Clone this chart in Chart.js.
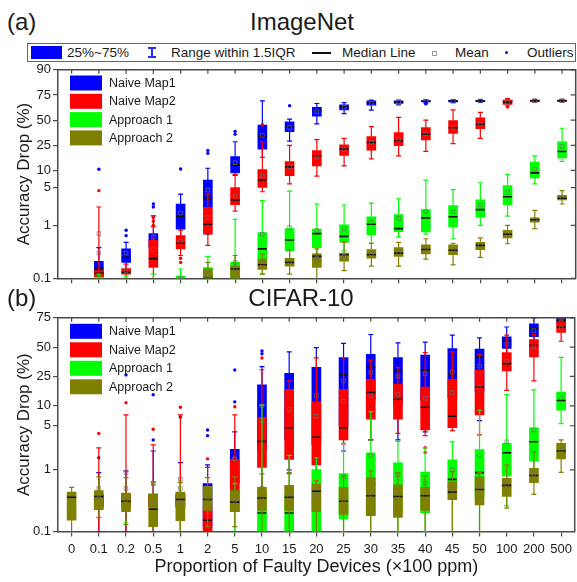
<!DOCTYPE html>
<html>
<head>
<meta charset="utf-8">
<script src="https://cdn.jsdelivr.net/npm/chart.js@4.4.0/dist/chart.umd.min.js"></script>
<style>
  body { margin: 0; width: 577px; height: 582px; background: #fff; position: relative; overflow: hidden;
         font-family: "Liberation Sans", Arial, sans-serif; color: #1a1a1a; }
  canvas { position: absolute; left: 0; }
  #chartA { top: 60px; }
  #chartB { top: 308px; }
  .abs { position: absolute; white-space: nowrap; }
  .head { font-size: 24px; line-height: 24px; }
  .center { transform: translateX(-50%); }
  #keyStrip { position: absolute; left: 27px; top: 43px; width: 549px; height: 19px; border: 1px solid #666;
              box-sizing: border-box; background: #fff; font-size: 13.5px; }
  #keyStrip .kt { position: absolute; top: 0; line-height: 17px; white-space: nowrap; }
  #keyStrip .mk { position: absolute; }
</style>
</head>
<body>
<canvas id="chartA" width="577" height="232"></canvas>
<canvas id="chartB" width="577" height="274"></canvas>

<div class="abs head" style="left:7px; top:10px;">(a)</div>
<div class="abs head center" style="left:302px; top:10px;">ImageNet</div>
<div class="abs head" style="left:7px; top:286px;">(b)</div>
<div class="abs head center" style="left:301px; top:286px;">CIFAR-10</div>

<div id="keyStrip">
  <span class="mk" style="left:3px; top:2px; width:31px; height:13px; background:#0000ff;"></span>
  <span class="kt" style="left:39px;">25%~75%</span>
  <span class="mk" style="left:123px; top:3px; width:2px; height:11px; background:#2a2aff;"></span>
  <span class="mk" style="left:120px; top:3px; width:8px; height:2px; background:#2a2aff;"></span>
  <span class="mk" style="left:120px; top:12px; width:8px; height:2px; background:#2a2aff;"></span>
  <span class="kt" style="left:143px;">Range within 1.5IQR</span>
  <span class="mk" style="left:284px; top:8px; width:19px; height:1.5px; background:#111;"></span>
  <span class="kt" style="left:314px;">Median Line</span>
  <span class="mk" style="left:404px; top:6.5px; width:3px; height:3px; border:1px solid #999;"></span>
  <span class="kt" style="left:427px;">Mean</span>
  <span class="mk" style="left:477px; top:7px; width:3px; height:3px; border-radius:50%; background:#0000ff;"></span>
  <span class="kt" style="left:499px;">Outliers</span>
</div>

<script>
// fault proportions on the x axis (x100 ppm)
const catLabels = ['0', '0.1', '0.2', '0.5', '1', '2', '5', '10', '15', '20', '25', '30', '35', '40', '45', '50', '100', '200', '500'];
const yTicksA = [0.1, 1, 5, 10, 25, 50, 75, 90];
const yTicksB = [0.1, 1, 5, 10, 25, 50, 75];

const seriesNames = ['Naive Map1', 'Naive Map2', 'Approach 1', 'Approach 2'];
const seriesColors = ['#0000ff', '#ff0000', '#00ff00', '#808000'];

// each entry: [lower whisker, Q1, median, Q3, upper whisker, mean] in % accuracy drop
const inNaive1 = [
  null,
  [0.09, 0.105, 0.155, 0.21, 0.38, 0.7],
  [0.14, 0.2, 0.25, 0.36, 0.48, 0.3],
  [0.2, 0.39, 0.52, 0.7, 1.5, 0.6],
  [0.48, 0.85, 1.49, 2.5, 3.8, 1.7],
  [0.68, 2.17, 3.2, 6.8, 10.9, 4.5],
  [8.2, 9.06, 12.4, 16.9, 28, 13.5],
  [16.5, 22, 32.8, 44.6, 69.8, 34],
  [28.6, 37.6, 42.6, 48.1, 51, 42],
  [46, 54.2, 61.1, 63.5, 67.4, 59],
  [57, 61, 64.2, 66, 68.3, 63.5],
  [60.7, 65.7, 67.8, 69.8, 70.5, 67.5],
  [66, 67.4, 68.8, 69.8, 70.5, 68.5],
  [68, 68.8, 69.5, 70.2, 70.8, 69.4],
  [68.2, 69, 69.7, 70.4, 71, 69.6],
  [68.5, 69.2, 69.8, 70.4, 71, 69.8],
  [68.8, 69.4, 69.9, 70.4, 70.9, 69.9],
  [69, 69.5, 70, 70.4, 70.8, 70],
  [69.2, 69.6, 70, 70.4, 70.8, 70]
];
const inNaive1Out = [[], [10.5], [0.64, 0.81], [2.2, 2.5], [10.6], [19, 21], [35, 38], [], [65.3], [], [], [], [], [67, 67.5], [], [], [], [], []];

const inNaive2 = [
  null,
  [0.07, 0.1, 0.125, 0.14, 2.2, 0.3],
  [0.08, 0.12, 0.13, 0.153, 0.185, 0.14],
  [0.09, 0.16, 0.236, 0.52, 0.95, 0.35],
  [0.27, 0.36, 0.46, 0.64, 0.81, 0.5],
  [0.42, 0.68, 1.05, 2.17, 3.8, 1.4],
  [1.84, 2.44, 2.96, 4.98, 8.5, 3.5],
  [4.2, 5.04, 6.8, 10.3, 28, 8],
  [5.8, 8.1, 11.5, 14.1, 25, 11.5],
  [8, 11.9, 17.4, 20.9, 30, 16.5],
  [11.9, 17.6, 22.2, 25.4, 31, 21.5],
  [15.5, 21.3, 27.4, 32.8, 43, 27.5],
  [17.4, 24.6, 28.6, 36.6, 53, 30],
  [20.3, 29.7, 35, 41.8, 50, 35.5],
  [26.4, 36, 41.8, 49.5, 61, 42],
  [31, 40.7, 45.3, 52.4, 58.4, 46],
  [65, 66.5, 68.5, 70.5, 72, 68.5],
  [69, 69.5, 70, 70.5, 71, 70],
  [69, 69.5, 70, 70.5, 71, 70]
];
const inNaive2Out = [[], [4.4], [], [1.0, 1.2, 1.4], [0.2, 0.24], [], [], [45], [], [], [], [], [], [], [], [], [64], [], []];

const inApp1 = [
  null,
  [0.05, 0.05, 0.08, 0.105, 0.12, 0.09],
  [0.05, 0.05, 0.07, 0.09, 0.11, 0.08],
  [0.05, 0.05, 0.07, 0.09, 0.12, 0.08],
  [0.05, 0.07, 0.09, 0.11, 0.15, 0.1],
  [0.05, 0.08, 0.11, 0.16, 0.26, 0.13],
  [0.05, 0.09, 0.14, 0.2, 1.3, 0.2],
  [0.12, 0.236, 0.36, 0.73, 2.9, 0.68],
  [0.22, 0.33, 0.53, 0.87, 4.3, 0.91],
  [0.29, 0.38, 0.7, 0.85, 2.5, 0.8],
  [0.33, 0.48, 0.62, 1.02, 2.4, 0.85],
  [0.46, 0.67, 1.05, 1.45, 2.6, 1.15],
  [0.6, 0.76, 0.87, 1.6, 3.1, 1.35],
  [0.68, 0.75, 1.38, 1.97, 6.8, 1.84],
  [0.56, 0.95, 1.45, 2.33, 4.6, 1.79],
  [1.0, 1.43, 1.97, 3.0, 6.1, 2.4],
  [1.49, 2.44, 3.4, 5.4, 8.5, 4.1],
  [5.8, 7.4, 9.1, 13.8, 17.4, 10.5],
  [14.1, 16.1, 20.3, 28, 41.2, 24]
];

const inApp2 = [
  null, null, null, null, null,
  [0.05, 0.07, 0.1, 0.15, 0.2, 0.11],
  [0.08, 0.1, 0.15, 0.17, 0.27, 0.15],
  [0.12, 0.147, 0.18, 0.23, 0.29, 0.19],
  [0.12, 0.17, 0.2, 0.24, 0.34, 0.21],
  [0.09, 0.16, 0.26, 0.29, 0.36, 0.24],
  [0.14, 0.21, 0.28, 0.3, 0.48, 0.26],
  [0.17, 0.24, 0.28, 0.35, 0.46, 0.29],
  [0.17, 0.26, 0.3, 0.38, 0.48, 0.31],
  [0.23, 0.29, 0.35, 0.43, 0.56, 0.36],
  [0.18, 0.28, 0.34, 0.43, 0.46, 0.35],
  [0.25, 0.35, 0.42, 0.48, 0.58, 0.42],
  [0.45, 0.58, 0.68, 0.81, 1.0, 0.7],
  [0.87, 1.15, 1.27, 1.38, 1.9, 1.28],
  [2.5, 2.97, 3.2, 3.6, 4.4, 3.25]
];

const cfNaive1 = [
  null,
  [0.1, 0.25, 0.3, 0.4, 0.9, 0.3],
  [0.1, 0.25, 0.3, 0.4, 0.96, 0.5],
  [0.1, 0.25, 0.3, 0.4, 2.0, 0.6],
  [0.1, 0.25, 0.3, 0.4, 1.3, 0.5],
  [0.07, 0.12, 0.25, 0.6, 1.2, 0.5],
  [0.3, 0.6, 1.0, 2.12, 4.0, 1.5],
  [0.5, 2.0, 5, 19.6, 32.5, 10],
  [1.0, 3.0, 8, 27.3, 45.6, 12],
  [0.8, 2.5, 10, 32, 49.6, 14],
  [2.0, 5, 26.4, 40.4, 53.5, 22],
  [3, 12, 32, 43.4, 61.6, 28],
  [3, 10, 29, 40.4, 54, 25],
  [4, 12, 29.4, 42.5, 54.6, 27],
  [5, 13, 26.8, 48.7, 61, 28],
  [6, 16, 41, 48.2, 58.5, 33],
  [35, 48.9, 55.5, 59.6, 68, 53],
  [50, 59.6, 66.8, 70.6, 75, 65],
  [66, 70.6, 73, 76, 79, 72]
];
const cfNaive1Out = [[], [1.56], [26.1], [3.0, 14.4], [6.8], [3.5, 4.3], [11.4, 29.8], [43.8, 46.5], [], [], [], [], [], [], [], [], [], [], []];

const cfNaive2 = [
  null,
  [0.05, 0.25, 0.3, 0.4, 2.25, 0.5],
  [0.05, 0.25, 0.3, 0.4, 7.3, 0.9],
  [0.05, 0.25, 0.3, 0.38, 2.5, 0.6],
  [0.05, 0.25, 0.3, 0.4, 7.3, 0.7],
  [0.05, 0.09, 0.153, 0.25, 1.09, 0.4],
  [0.1, 0.21, 0.45, 1.47, 7.3, 1.5],
  [0.3, 1.09, 2.85, 6.7, 30, 6],
  [0.87, 1.47, 4.65, 17.1, 22, 8.9],
  [0.6, 1.2, 3.3, 11.4, 40, 7],
  [2.6, 3.0, 4.65, 17.1, 40, 11.6],
  [3.0, 6.3, 15.4, 23, 38, 14],
  [3.8, 6.3, 12.4, 20, 32, 14.5],
  [3.5, 4.3, 9.5, 18.3, 45, 12.8],
  [4.2, 4.65, 7, 23, 45.6, 15.4],
  [3.6, 7.3, 18.3, 29.8, 43, 18],
  [16.5, 29, 35, 45, 61, 37],
  [22, 41, 51.5, 57, 61.6, 50],
  [55.5, 63.5, 68, 72, 74, 67]
];
const cfNaive2Out = [[], [3.8], [11.1], [4.4], [9.5], [1.5], [9.7], [40], [], [], [], [], [], [2.25, 1.9], [], [], [], [], []];

const cfApp1 = [
  null,
  [0.03, 0.04, 0.05, 0.06, 0.08, 0.05],
  [0.03, 0.04, 0.05, 0.06, 0.08, 0.05],
  [0.03, 0.04, 0.05, 0.06, 0.08, 0.05],
  [0.03, 0.04, 0.05, 0.06, 0.08, 0.05],
  [0.03, 0.04, 0.05, 0.06, 0.08, 0.05],
  [0.05, 0.22, 0.3, 0.4, 0.6, 0.3],
  [0.05, 0.1, 0.2, 0.45, 10.2, 0.5],
  [0.05, 0.08, 0.2, 0.4, 1.7, 0.4],
  [0.05, 0.09, 0.3, 1.01, 1.56, 0.5],
  [0.1, 0.16, 0.4, 0.87, 2.65, 0.77],
  [0.05, 0.18, 0.58, 1.87, 8.2, 1.7],
  [0.1, 0.21, 0.45, 1.3, 2.85, 0.83],
  [0.1, 0.2, 0.4, 0.92, 2.25, 0.6],
  [0.05, 0.51, 0.7, 1.44, 2.8, 1.0],
  [0.05, 0.36, 0.9, 2.1, 8.6, 1.7],
  [0.26, 0.8, 1.88, 2.65, 14.4, 2.8],
  [0.65, 1.38, 2.8, 4.65, 16.8, 4.3],
  [5.4, 8.6, 11.9, 15.7, 40.5, 13]
];
const cfApp1Out = [[], [], [0.14], [], [], [], [], [], [], [], [], [], [], [], [], [], [], [], []];

const cfApp2 = [
  [0.1, 0.153, 0.36, 0.435, 0.52, 0.31],
  [0.17, 0.227, 0.37, 0.46, 0.77, 0.35],
  [0.13, 0.21, 0.31, 0.42, 0.75, 0.33],
  [0.05, 0.12, 0.23, 0.41, 0.64, 0.28],
  [0.1, 0.15, 0.33, 0.435, 0.62, 0.3],
  [0.12, 0.22, 0.33, 0.54, 0.75, 0.35],
  [0.12, 0.21, 0.3, 0.46, 0.77, 0.32],
  [0.08, 0.22, 0.35, 0.52, 0.86, 0.36],
  [0.08, 0.22, 0.36, 0.56, 0.9, 0.37],
  [0.08, 0.21, 0.45, 0.59, 0.67, 0.4],
  [0.08, 0.19, 0.31, 0.52, 0.8, 0.33],
  [0.08, 0.18, 0.38, 0.75, 0.95, 0.4],
  [0.08, 0.17, 0.37, 0.57, 0.9, 0.38],
  [0.1, 0.22, 0.38, 0.52, 0.8, 0.38],
  [0.05, 0.33, 0.44, 0.64, 0.93, 0.48],
  [0.1, 0.27, 0.48, 0.77, 0.9, 0.5],
  [0.24, 0.37, 0.56, 0.73, 1.2, 0.58],
  [0.4, 0.62, 0.81, 1.06, 1.95, 0.85],
  [0.91, 1.5, 2.0, 2.65, 3.0, 2.1]
];

const noOutliers = catLabels.map(() => []);

const axisColor = '#4a4a4a';
const fontFamily = '"Liberation Sans", Arial, sans-serif';

// probability (logit) axis: percentages are mapped before they reach the linear scale
const logit = v => Math.log(v / (100 - v));

function clipToArea(chart) {
  const a = chart.chartArea;
  chart.ctx.save();
  chart.ctx.beginPath();
  chart.ctx.rect(a.left, a.top, a.right - a.left, a.bottom - a.top);
  chart.ctx.clip();
}

// whiskers go under each box, median/mean/outliers on top of it,
// so every series is finished before the next one is painted
const boxExtras = {
  id: 'boxExtras',
  beforeDatasetDraw(chart, args) {
    const ds = chart.data.datasets[args.index];
    const { ctx, scales: { x, y } } = chart;
    clipToArea(chart);
    ctx.strokeStyle = ds.backgroundColor;
    ctx.lineWidth = 1.2;
    ds.stats.forEach((s, j) => {
      if (!s) return;
      const cx = x.getPixelForValue(j);
      const yLo = y.getPixelForValue(logit(s[0]));
      const yQ1 = y.getPixelForValue(logit(s[1]));
      const yQ3 = y.getPixelForValue(logit(s[3]));
      const yHi = y.getPixelForValue(logit(s[4]));
      ctx.beginPath();
      ctx.moveTo(cx, yLo); ctx.lineTo(cx, yQ1);
      ctx.moveTo(cx, yQ3); ctx.lineTo(cx, yHi);
      ctx.moveTo(cx - 2.5, yLo); ctx.lineTo(cx + 2.5, yLo);
      ctx.moveTo(cx - 2.5, yHi); ctx.lineTo(cx + 2.5, yHi);
      ctx.stroke();
    });
    ctx.restore();
  },
  afterDatasetDraw(chart, args) {
    const ds = chart.data.datasets[args.index];
    const { ctx, scales: { x, y } } = chart;
    clipToArea(chart);
    ds.stats.forEach((s, j) => {
      if (!s) return;
      const cx = x.getPixelForValue(j);
      // median
      const yMed = y.getPixelForValue(logit(s[2]));
      ctx.strokeStyle = '#111';
      ctx.lineWidth = 1.6;
      ctx.beginPath();
      ctx.moveTo(cx - 4.5, yMed); ctx.lineTo(cx + 4.5, yMed);
      ctx.stroke();
      // mean
      const yMean = y.getPixelForValue(logit(s[5]));
      ctx.strokeStyle = 'rgba(110,110,110,0.8)';
      ctx.lineWidth = 0.8;
      ctx.strokeRect(cx - 1.8, yMean - 1.8, 3.6, 3.6);
      // outliers
      ctx.fillStyle = ds.backgroundColor;
      ds.outliers[j].forEach(v => {
        ctx.beginPath();
        ctx.arc(cx, y.getPixelForValue(logit(v)), 1.7, 0, Math.PI * 2);
        ctx.fill();
      });
    });
    ctx.restore();
  }
};

// top/right border with inward ticks
const frame = {
  id: 'frame',
  afterDraw(chart) {
    const { ctx, chartArea: a, scales: { x, y } } = chart;
    ctx.save();
    ctx.strokeStyle = axisColor;
    ctx.lineWidth = 1.5;
    ctx.beginPath();
    ctx.moveTo(a.left, a.top); ctx.lineTo(a.right, a.top); ctx.lineTo(a.right, a.bottom);
    ctx.stroke();
    ctx.lineWidth = 1.2;
    ctx.beginPath();
    catLabels.forEach((c, j) => {
      const px = x.getPixelForValue(j);
      ctx.moveTo(px, a.top); ctx.lineTo(px, a.top + 4);
    });
    y.ticks.forEach(t => {
      const py = y.getPixelForValue(t.value);
      ctx.moveTo(a.right, py); ctx.lineTo(a.right - 5, py);
    });
    ctx.stroke();
    ctx.restore();
  }
};

// series key in the upper left corner of the plot
const innerKey = {
  id: 'innerKey',
  afterDraw(chart, args, opts) {
    const { ctx, chartArea: a } = chart;
    ctx.save();
    ctx.font = '12.5px ' + fontFamily;
    ctx.textBaseline = 'middle';
    seriesNames.forEach((name, k) => {
      const top = a.top + opts.offsetY + k * opts.step;
      ctx.fillStyle = seriesColors[k];
      ctx.fillRect(a.left + 12, top, 32, 15);
      ctx.fillStyle = '#1a1a1a';
      ctx.fillText(name, a.left + 51, top + 8);
    });
    ctx.restore();
  }
};

function makePanel(id, stats, outs, yTicks, yMax, opts) {
  return new Chart(document.getElementById(id), {
    type: 'bar',
    data: {
      labels: catLabels,
      datasets: seriesNames.map((name, k) => ({
        label: name,
        data: stats[k].map(s => s ? [logit(s[1]), logit(s[3])] : null),
        stats: stats[k],
        outliers: outs[k],
        backgroundColor: seriesColors[k],
        borderWidth: 0,
        barThickness: 9,
        grouped: false,
        order: 4 - k
      }))
    },
    options: {
      responsive: false,
      animation: false,
      devicePixelRatio: 1,
      layout: { padding: { top: opts.padTop, right: 1.3, left: 0, bottom: 0 } },
      plugins: {
        legend: { display: false },
        tooltip: { enabled: false },
        innerKey: { offsetY: opts.keyY, step: opts.keyStep }
      },
      scales: {
        x: {
          type: 'category',
          offset: true,
          grid: { drawOnChartArea: false, drawTicks: true, tickLength: 5, color: axisColor, lineWidth: 1.2, offset: false },
          border: { display: true, color: axisColor, width: 1.5 },
          ticks: { display: opts.xLabels, autoSkip: false, maxRotation: 0, padding: 5, color: '#1a1a1a',
                   font: { family: fontFamily, size: 13 } },
          title: { display: opts.xLabels, text: 'Proportion of Faulty Devices (×100 ppm)', color: '#1a1a1a',
                   font: { family: fontFamily, size: 18 }, padding: { top: 0, bottom: 4 } },
          afterFit: s => { s.height = opts.xHeight; }
        },
        y: {
          type: 'linear',
          min: logit(0.1),
          max: logit(yMax),
          afterBuildTicks: s => { s.ticks = yTicks.map(v => ({ value: logit(v) })); },
          grid: { drawOnChartArea: false, drawTicks: true, tickLength: 5, color: axisColor, lineWidth: 1.2 },
          border: { display: true, color: axisColor, width: 1.5 },
          ticks: { callback: (v, i) => String(yTicks[i]), padding: 2, color: '#1a1a1a',
                   font: { family: fontFamily, size: 13 } },
          title: { display: true, text: 'Accuracy Drop (%)', color: '#1a1a1a',
                   font: { family: fontFamily, size: 17 }, padding: { top: 14, bottom: 0 } },
          afterFit: s => { s.width = 58; }
        }
      }
    },
    plugins: [boxExtras, frame, innerKey]
  });
}

makePanel('chartA',
  [inNaive1, inNaive2, inApp1, inApp2],
  [inNaive1Out, inNaive2Out, noOutliers, noOutliers],
  yTicksA, 90,
  { padTop: 6, xHeight: 13.7, xLabels: false, keyY: 5.7, keyStep: 18.3 });

makePanel('chartB',
  [cfNaive1, cfNaive2, cfApp1, cfApp2],
  [cfNaive1Out, cfNaive2Out, cfApp1Out, noOutliers],
  yTicksB, 75,
  { padTop: 7, xHeight: 50.5, xLabels: true, keyY: 6, keyStep: 18.5 });
</script>
</body>
</html>
